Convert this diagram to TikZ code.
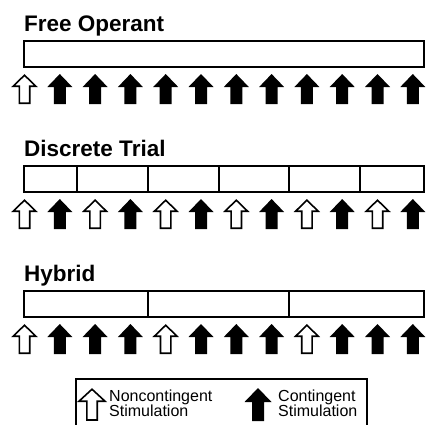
\documentclass[tikz,border=0pt]{standalone}
\usepackage{fontspec}
\setmainfont{Liberation Sans}
\tikzset{
  box/.style={line width=2pt},
  title/.style={anchor=base west, inner sep=0pt, font=\bfseries\fontsize{22.5}{26}\selectfont},
  legtext/.style={anchor=base west, inner sep=0pt, font=\fontsize{16}{18}\selectfont},
  filledarrow/.pic={\fill[black] (0,0) -- (12.5,13) -- (6,13) -- (6,30) -- (-6,30) -- (-6,13) -- (-12.5,13) -- cycle;},
  openarrow/.pic={\draw[line width=1.6pt, fill=white, line join=miter] (0,1.2) -- (11.3,12.2) -- (5.2,12.2) -- (5.2,29.2) -- (-5.2,29.2) -- (-5.2,12.2) -- (-11.3,12.2) -- cycle;},
  biglfilled/.pic={\fill[black] (0,0) -- (13.5,14) -- (6,14) -- (6,33) -- (-6,33) -- (-6,14) -- (-13.5,14) -- cycle;},
  biglopen/.pic={\draw[line width=1.6pt, fill=white, line join=miter] (0,1.2) -- (13,13.2) -- (5.2,13.2) -- (5.2,32) -- (-5.2,32) -- (-5.2,13.2) -- (-13,13.2) -- cycle;}
}
\begin{document}
\begin{tikzpicture}[x=1pt,y=-1pt]
\useasboundingbox (0,0) rectangle (427,424);
\clip (0,0) rectangle (427,424);
\def\cx#1{24.5+35.3*#1}
% Free Operant
\node[title] (t1) at (24,31) {Free Operant};
\draw[box] (24,41) rectangle (424,67);
\foreach \i in {0,...,11}{
  \ifnum\i=0 \pic at ({\cx{\i}},74) {openarrow};
  \else \pic at ({\cx{\i}},74) {filledarrow};\fi
}
% Discrete Trial
\node[title] (t2) at (24,156) {Discrete Trial};
\draw[box] (24,166) rectangle (424,192);
\foreach \d in {1.5,3.5,5.5,7.5,9.5}{ \draw[box] ({\cx{\d}},166) -- ({\cx{\d}},192); }
\foreach \i in {0,...,11}{
  \ifodd\i \pic at ({\cx{\i}},199) {filledarrow};
  \else \pic at ({\cx{\i}},199) {openarrow};\fi
}
% Hybrid
\node[title] (t3) at (24,281) {Hybrid};
\draw[box] (24,291) rectangle (424,317);
\foreach \d in {3.5,7.5}{ \draw[box] ({\cx{\d}},291) -- ({\cx{\d}},317); }
\foreach \i in {0,...,11}{
  \pgfmathtruncatemacro\r{mod(\i,4)}
  \ifnum\r=0 \pic at ({\cx{\i}},324) {openarrow};
  \else \pic at ({\cx{\i}},324) {filledarrow};\fi
}
% Legend
\draw[box] (76,440) -- (76,379) -- (367,379) -- (367,440);
\pic at (92,388) {biglopen};
\pic at (258,388) {biglfilled};
\node[legtext] (n1) at (109,401) {Noncontingent};
\node[legtext] (n2) at (109,416) {Stimulation};
\node[legtext] (c1) at (278,401) {Contingent};
\node[legtext] (c2) at (278,416) {Stimulation};
\end{tikzpicture}
\end{document}
